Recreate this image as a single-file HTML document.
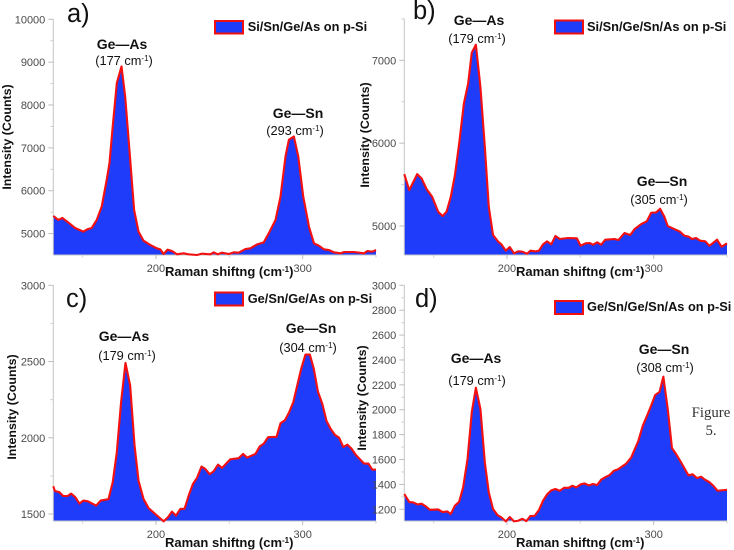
<!DOCTYPE html>
<html>
<head>
<meta charset="utf-8">
<style>
html,body{margin:0;padding:0;background:#fff;}
svg{display:block;font-family:"Liberation Sans",sans-serif;filter:blur(0.35px);}
.tick{font-size:11px;fill:#4a4a4a;}
.peak{font-size:14px;font-weight:bold;fill:#111;text-anchor:middle;}
.wave{font-size:12.8px;fill:#111;text-anchor:middle;}
.wave tspan{font-size:8px;}
.ytitle{font-size:12.4px;font-weight:bold;fill:#111;text-anchor:middle;}
.xtitle{font-size:13px;font-weight:bold;fill:#111;}
.xtitle tspan{font-size:8px;}
.legend{font-size:12.8px;font-weight:bold;fill:#111;}
.letter{font-size:25.5px;fill:#111;}
.fig{font-family:"Liberation Serif",serif;font-size:14.8px;fill:#333;text-anchor:middle;}
</style>
</head>
<body>
<svg id="chart" width="734" height="550" viewBox="0 0 734 550" xmlns="http://www.w3.org/2000/svg">
<g id="panel-a"></g>
<g id="panel-b"></g>
<g id="panel-c"></g>
<g id="panel-d"></g>

<text class="letter" x="67" y="22">a)</text>
<text class="peak" x="122" y="49">Ge—As</text>
<text class="wave" x="124" y="65">(177 cm<tspan dy="-4">-1</tspan><tspan dy="4" style="font-size:12.8px">)</tspan></text>
<text class="peak" x="298" y="118">Ge—Sn</text>
<text class="wave" x="295" y="135">(293 cm<tspan dy="-4">-1</tspan><tspan dy="4" style="font-size:12.8px">)</tspan></text>
<rect x="215" y="21" width="28" height="12.5" fill="#1f3cfb" stroke="#f01010" stroke-width="2"/>
<text class="legend" x="247.7" y="31">Si/Sn/Ge/As on p-Si</text>
<text class="ytitle" transform="translate(11,137) rotate(-90)">Intensity (Counts)</text>
<text class="xtitle" x="165" y="276">Raman shiftng (cm<tspan dy="-4">-1</tspan><tspan dy="4" style="font-size:13px">)</tspan></text>

<text class="letter" x="413" y="19">b)</text>
<text class="peak" x="479" y="25">Ge—As</text>
<text class="wave" x="477" y="43">(179 cm<tspan dy="-4">-1</tspan><tspan dy="4" style="font-size:12.8px">)</tspan></text>
<text class="peak" x="662" y="186">Ge—Sn</text>
<text class="wave" x="659" y="204">(305 cm<tspan dy="-4">-1</tspan><tspan dy="4" style="font-size:12.8px">)</tspan></text>
<rect x="555" y="20.5" width="28" height="13" fill="#1f3cfb" stroke="#f01010" stroke-width="2"/>
<text class="legend" x="587" y="31">Si/Sn/Ge/Sn/As on p-Si</text>
<text class="ytitle" transform="translate(369,135) rotate(-90)">Intensity (Counts)</text>
<text class="xtitle" x="516" y="276">Raman shiftng (cm<tspan dy="-4">-1</tspan><tspan dy="4" style="font-size:13px">)</tspan></text>

<text class="letter" x="66" y="307">c)</text>
<text class="peak" x="124" y="341">Ge—As</text>
<text class="wave" x="127" y="360">(179 cm<tspan dy="-4">-1</tspan><tspan dy="4" style="font-size:12.8px">)</tspan></text>
<text class="peak" x="311" y="333">Ge—Sn</text>
<text class="wave" x="308" y="352">(304 cm<tspan dy="-4">-1</tspan><tspan dy="4" style="font-size:12.8px">)</tspan></text>
<rect x="215" y="292.5" width="28" height="13" fill="#1f3cfb" stroke="#f01010" stroke-width="2"/>
<text class="legend" x="247.7" y="303">Ge/Sn/Ge/As on p-Si</text>
<text class="ytitle" transform="translate(16,407) rotate(-90)">Intensity (Counts)</text>
<text class="xtitle" x="165" y="547">Raman shiftng (cm<tspan dy="-4">-1</tspan><tspan dy="4" style="font-size:13px">)</tspan></text>

<text class="letter" x="415" y="307">d)</text>
<text class="peak" x="476" y="363">Ge—As</text>
<text class="wave" x="477" y="385">(179 cm<tspan dy="-4">-1</tspan><tspan dy="4" style="font-size:12.8px">)</tspan></text>
<text class="peak" x="664" y="354">Ge—Sn</text>
<text class="wave" x="665" y="372">(308 cm<tspan dy="-4">-1</tspan><tspan dy="4" style="font-size:12.8px">)</tspan></text>
<rect x="555" y="301" width="28" height="13" fill="#1f3cfb" stroke="#f01010" stroke-width="2"/>
<text class="legend" x="587" y="311">Ge/Sn/Ge/Sn/As on p-Si</text>
<text class="ytitle" transform="translate(366,398) rotate(-90)">Intensity (Counts)</text>
<text class="xtitle" x="516" y="547">Raman shiftng (cm<tspan dy="-4">-1</tspan><tspan dy="4" style="font-size:13px">)</tspan></text>
<text class="fig" x="711" y="417">Figure</text>
<text class="fig" x="711" y="435">5.</text>
</svg>
<script>
var xTicks = [200, 300];
var xMinorTicks = [150, 250, 350];

var aShift = [130,133.4,136.2,140.3,144.8,150.5,153.2,156.2,159.6,163,166.4,168.3,170.5,173.3,176.5,179,181.9,185.1,188.1,191.5,196.1,200.6,202.9,205.2,207.9,210.9,214.3,218.8,222.3,227.9,231.4,237.1,239.3,242.1,245,249.6,253,256.4,261,264.4,269,273.5,276.9,281.5,284.9,288.3,290.6,294,297,300.4,304.3,307.7,311.1,314.5,317.9,321.3,325.9,328.2,335,338.4,341.8,344.1,347.5,350];
var aCounts = [5411,5318,5365,5256,5131,5045,5100,5131,5318,5630,6253,6642,7500,8512,8901,8200,6954,5552,5045,4835,4734,4656,4632,4523,4625,4593,4516,4539,4516,4500,4531,4516,4562,4516,4555,4523,4562,4555,4640,4656,4749,4796,5006,5318,5863,6798,7188,7265,6798,5863,5162,4773,4718,4632,4617,4562,4539,4570,4570,4555,4539,4593,4578,4617];
var aYTicks = [5000,6000,7000,8000,9000,10000];
var aYMinorTicks = [5500,6500,7500,8500,9500];

var bShift = [130,133.4,138.8,141.8,145.2,149,153.1,156.1,158.8,161.7,164.5,167.4,170.6,173.5,176,178.8,181.9,184.9,187.6,190.5,194,196.2,199.2,201.9,204.8,207.6,210.5,213.7,216,219.3,221.8,224.6,227.3,230.2,233,236,241.6,247.7,250.2,253.6,256.3,258.6,261.5,264.2,267,273.3,276,280.1,284,287,291.5,295.3,298.3,301.7,304.4,307.3,309.6,314.1,318,320.9,323.9,326.1,328.9,331.6,335.2,337.9,340.2,343.2,346.3,350];
var bCounts = [5626,5433,5626,5574,5445,5353,5172,5120,5172,5353,5614,5995,6477,6718,7092,7188,6678,5955,5232,4891,4811,4779,4702,4746,4670,4694,4690,4666,4702,4694,4702,4779,4815,4779,4879,4843,4855,4851,4762,4791,4795,4774,4803,4774,4835,4843,4831,4915,4891,4963,5023,5056,5160,5164,5208,5112,4999,4963,4931,4883,4871,4843,4855,4823,4815,4762,4791,4835,4750,4791];
var bYTicks = [5000,6000,7000];
var bYMinorTicks = [5500,6500,7500];

var cShift = [130,131.1,134.1,136.8,139.8,142.1,145,147.8,150.5,153.5,159.2,162.3,167.6,170.5,173.3,176.2,179.2,182.4,185.4,188.1,191.5,195,199.5,205.2,208.1,210.9,213.6,216.6,219.5,222.3,225.2,228,231,233.6,236.6,239.3,242.3,245,250.7,256.4,259.4,262.1,267.8,270.8,273.5,276.5,282.2,284.9,287.9,290.6,293.6,296.3,299,301.9,304.9,307.6,310.4,313.4,316.3,319.1,322,324.8,327.7,330.5,333.4,336.2,341.8,344.8,347.5,350];
var cCounts = [1682,1651,1643,1618,1618,1634,1610,1568,1588,1583,1555,1588,1597,1708,1905,2233,2491,2343,1949,1719,1599,1538,1500,1452,1478,1516,1489,1533,1535,1621,1697,1737,1811,1796,1761,1780,1824,1802,1859,1866,1894,1870,1894,1944,1962,2004,2006,2095,2115,2163,2233,2343,2452,2546,2546,2452,2303,2222,2109,2058,2019,2001,1940,1955,1927,1888,1831,1831,1791,1791];
var cYTicks = [1500,2000,2500,3000];
var cYMinorTicks = [1750,2250,2750];

var dShift = [130,133.4,136.1,139.1,141.8,144.7,147.5,153.1,156.1,159.3,161.7,164.5,167.4,170.1,173.1,176,178.8,181.9,184.9,187.6,190.5,193.5,196.2,199.2,201.9,204.8,207.6,210.5,213.2,215.9,218.9,221.8,224.6,227.5,230.2,233,236,239,242,244.5,247.2,250.2,252.9,255.9,258.6,261.5,264.2,267.2,269.9,272.9,275.6,281.2,284.7,289.6,292.6,295.5,298.3,301,304,306.6,309.6,312.5,315.3,318.7,320.9,323.7,326.6,329.5,332.3,335,337.9,340.7,343.6,350];
var dCounts = [1322,1258,1255,1239,1245,1223,1196,1199,1178,1183,1162,1229,1261,1376,1604,1979,2177,2006,1577,1336,1202,1154,1135,1103,1138,1103,1108,1124,1105,1146,1148,1194,1269,1322,1352,1363,1349,1373,1373,1389,1376,1400,1408,1392,1403,1395,1438,1459,1475,1510,1521,1566,1617,1751,1872,1952,2033,2118,2143,2266,2006,1692,1644,1577,1531,1473,1481,1451,1462,1438,1419,1389,1349,1357];
var dYTicks = [1200,1400,1600,1800,2000,2200,2400,2600,2800,3000];
var dYMinorTicks = [1300,1500,1700,1900,2100,2300,2500,2700,2900];

var NS = 'http://www.w3.org/2000/svg';

function makeX(left, right) {
  return function (v) { return left + (v - 130) / (350 - 130) * (right - left); };
}
function makeY(vMin, yMin, vRef, yRef) {
  return function (v) { return yMin + (v - vMin) / (vRef - vMin) * (yRef - yMin); };
}
function add(parent, tag, attrs) {
  var el = document.createElementNS(NS, tag);
  for (var k in attrs) { el.setAttribute(k, attrs[k]); }
  parent.appendChild(el);
  return el;
}
function drawPanel(id, shift, counts, yTicks, yMinor, x, y, left, right, baseV, topV, labelDx) {
  var g = document.getElementById(id);
  var base = y(baseV);
  var top = y(topV);
  var pts = [];
  for (var i = 0; i < shift.length; i++) {
    pts.push(x(shift[i]).toFixed(2) + ',' + y(counts[i]).toFixed(2));
  }
  var area = add(g, 'polygon', {points: left + ',' + base + ' ' + pts.join(' ') + ' ' + right + ',' + base, fill: '#1f3cfb'});
  
  

  var yAxis = add(g, 'line', {x1: left, x2: left, y1: top, y2: base, stroke: '#c4c4c4', 'stroke-width': 1});
  
  
  var xAxis = add(g, 'line', {x1: left, x2: right, y1: base, y2: base, stroke: '#c4c4c4', 'stroke-width': 1});
  
  

  yTicks.forEach(function (v) {
    var t = add(g, 'line', {x1: left - 5, x2: left, y1: y(v), y2: y(v), stroke: '#bdbdbd', 'stroke-width': 1});
    
    
    var l = add(g, 'text', {x: left - labelDx, y: y(v) + 4, 'text-anchor': 'end', 'class': 'tick'});
    
    
    l.textContent = v;
  });
  yMinor.forEach(function (v) {
    var t = add(g, 'line', {x1: left - 3, x2: left, y1: y(v), y2: y(v), stroke: '#cfcfcf', 'stroke-width': 1});
    
    
  });
  xTicks.forEach(function (v) {
    var t = add(g, 'line', {x1: x(v), x2: x(v), y1: base, y2: base + 4, stroke: '#bdbdbd', 'stroke-width': 1});
    
    
    var l = add(g, 'text', {x: x(v), y: base + 17, 'text-anchor': 'middle', 'class': 'tick'});
    
    
    l.textContent = v;
  });
  xMinorTicks.forEach(function (v) {
    var t = add(g, 'line', {x1: x(v), x2: x(v), y1: base, y2: base + 2.5, stroke: '#cfcfcf', 'stroke-width': 1});
    
    
  });

  var line = add(g, 'polyline', {points: pts.join(' '), fill: 'none', stroke: '#f41010', 'stroke-width': 2.1, 'stroke-linejoin': 'round'});
  
  
}

drawPanel('panel-a', aShift, aCounts, aYTicks, aYMinorTicks, makeX(53.3, 376), makeY(4500, 255, 10000, 19.3), 53.3, 376, 4500, 10000, 8);
drawPanel('panel-b', bShift, bCounts, bYTicks, bYMinorTicks, makeX(404.3, 727), makeY(4650, 255, 7000, 60.3), 404.3, 727, 4650, 7500, 8);
drawPanel('panel-c', cShift, cCounts, cYTicks, cYMinorTicks, makeX(53.3, 376), makeY(1454, 521, 3000, 285.3), 53.3, 376, 1454, 3000, 8);
drawPanel('panel-d', dShift, dCounts, dYTicks, dYMinorTicks, makeX(404.3, 727), makeY(1106, 521, 3000, 285.3), 404.3, 727, 1106, 3000, 8);
</script>
</body>
</html>
